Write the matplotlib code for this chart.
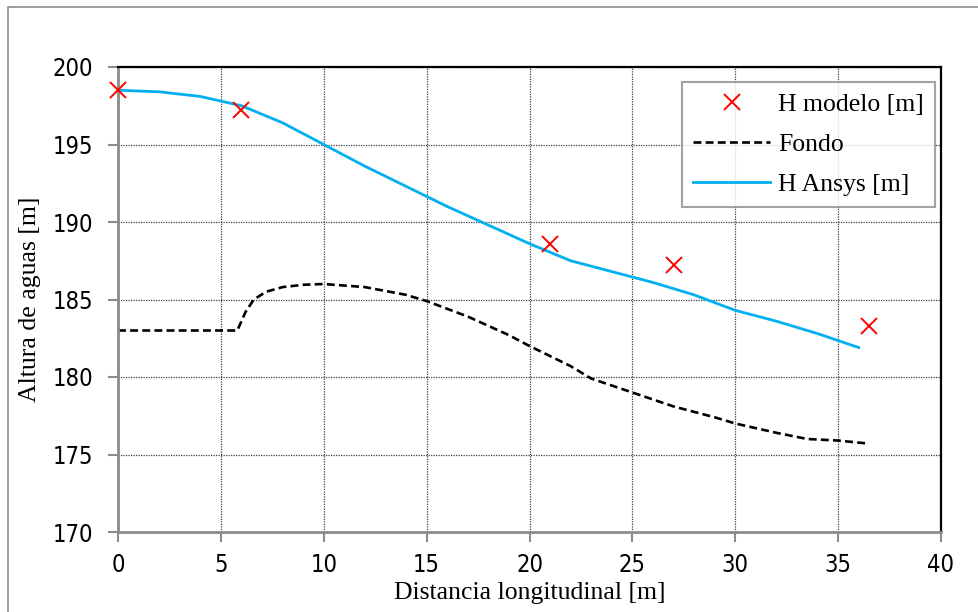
import matplotlib.pyplot as plt
from matplotlib.patches import Rectangle

# H modelo (measured points)
x_modelo = [0, 6, 21, 27, 36.5]
h_modelo = [198.5, 197.2, 188.6, 187.2, 183.3]

# H Ansys (simulated water surface)
x_ansys = [0, 2, 4, 6, 8, 10, 12, 14, 16, 18, 20, 22, 24, 26, 28, 30, 32, 34, 36]
h_ansys = [198.5, 198.4, 198.1, 197.5, 196.4, 195.0, 193.6, 192.3, 191.0, 189.8,
           188.6, 187.5, 186.8, 186.1, 185.3, 184.3, 183.6, 182.8, 181.9]

# Fondo (channel bed)
x_fondo = [0, 5.8, 6.2, 6.6, 7.2, 8, 9, 10, 12, 14, 15, 17, 19, 20, 22, 23, 25, 27,
           29, 30, 32, 33.5, 35, 36.5]
h_fondo = [183.0, 183.0, 184.2, 185.0, 185.5, 185.8, 185.95, 186.0, 185.8, 185.3,
           184.9, 183.9, 182.7, 182.0, 180.7, 179.9, 179.0, 178.1, 177.4, 177.0,
           176.4, 176.0, 175.9, 175.7]

x_ticks = list(range(0, 41, 5))
y_ticks = list(range(170, 201, 5))

fig = plt.figure(figsize=(9.79, 6.12), dpi=100)
ax = fig.add_axes([118 / 979, 1 - 532 / 612, (941 - 118) / 979, (532 - 67) / 612])

# outer chart border
fig.patches.append(Rectangle((8 / 979, -0.1), 1.2, 1 - 7 / 612 + 0.1, transform=fig.transFigure,
                             fill=False, edgecolor="#8c8c8c", linewidth=1.2))

ax.plot(x_modelo, h_modelo, linestyle="none", marker="x", color="red", markersize=11.5,
        markeredgewidth=1.4, label="H modelo [m]", zorder=5, clip_on=False)
ax.plot(x_fondo, h_fondo, color="black", linestyle=(0, (3, 1.6)), linewidth=1.9, label="Fondo")
ax.plot(x_ansys, h_ansys, color="#00B0F0", linewidth=2.0, label="H Ansys [m]")

ax.set_xlim(0, 40)
ax.set_ylim(170, 200)
ax.set_xticks(x_ticks)
ax.set_yticks(y_ticks)
ax.grid(True, linestyle=(0, (1, 1)), color="#404040", linewidth=0.9)

for s in ["left", "bottom"]:
    ax.spines[s].set_color("#8c8c8c")
    ax.spines[s].set_linewidth(2)
for s in ["top", "right"]:
    ax.spines[s].set_color("black")
    ax.spines[s].set_linewidth(1.6)
ax.tick_params(direction="out", length=7, width=1.5, color="#8c8c8c", pad=8)
ax.tick_params(axis="y", pad=11)
for lab in ax.get_xticklabels() + ax.get_yticklabels():
    lab.set_family("DejaVu Sans")
    lab.set_stretch("condensed")
    lab.set_fontsize(17)

ax.set_xlabel("Distancia longitudinal [m]", family="Liberation Serif", fontsize=18.5, labelpad=4)
ax.set_ylabel("Altura de aguas [m]", family="Liberation Serif", fontsize=18.5, labelpad=8)

leg = ax.legend(loc="upper right", bbox_to_anchor=(0.993, 0.968), borderaxespad=0,
                fancybox=False, prop={"family": "Liberation Serif", "size": 18.5},
                handlelength=3.0, labelspacing=0.65, borderpad=0.45, handletextpad=0.3)
leg.get_frame().set_edgecolor("#8c8c8c")
leg.get_frame().set_linewidth(1.5)

fig.savefig("out.png", dpi=100)
